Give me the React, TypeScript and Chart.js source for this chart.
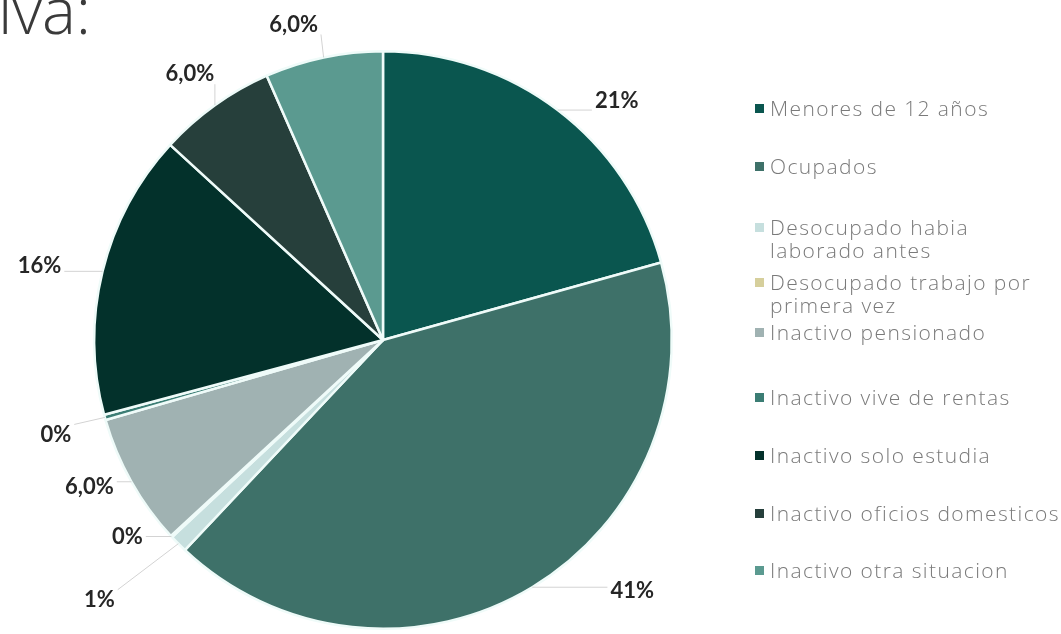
import React, { useEffect, useRef } from "react";
import { Chart, registerables } from "chart.js";

Chart.register(...registerables);

// ---- data ----
const categories: (string | string[])[] = [
  "Menores de 12 años",
  "Ocupados",
  ["Desocupado habia", "laborado antes"],
  ["Desocupado trabajo por", "primera vez"],
  "Inactivo pensionado",
  "Inactivo vive de rentas",
  "Inactivo solo estudia",
  "Inactivo oficios domesticos",
  "Inactivo otra situacion",
];
const sliceValues = [20.7, 41.4, 1.0, 0.1, 7.4, 0.3, 16.0, 6.6, 6.6];
const labelTexts = ["21%", "41%", "1%", "0%", "6,0%", "0%", "16%", "6,0%", "6,0%"];

// ---- styles / layout ----
const sliceColors = [
  "#0a564f",
  "#3e7169",
  "#c6dfde",
  "#d6cf9c",
  "#a0b2b2",
  "#3b7d74",
  "#03312b",
  "#263f3b",
  "#5b9a90",
];
// label offset from the slice's outer mid-point
const labelOffsets: [number, number][] = [
  [59, -9],
  [100, 4],
  [-79, 56],
  [-44, 0],
  [-42, 5],
  [-49, 17],
  [-63, -5],
  [-25, -31],
  [-30, -33],
];
const legendCenters = [108, 166, 227, 282, 332, 397, 455, 513, 570];
const LABEL_FONT = "bold 22px Lato";

const labelPlugin = {
  id: "pieLabels",
  afterDatasetsDraw(chart: any) {
    const ctx = chart.ctx as CanvasRenderingContext2D;
    const meta = chart.getDatasetMeta(0);
    ctx.save();
    ctx.font = LABEL_FONT;
    ctx.textAlign = "center";
    ctx.textBaseline = "middle";
    meta.data.forEach((arc: any, i: number) => {
      const p = arc.getProps(["x", "y", "startAngle", "endAngle", "outerRadius"], true);
      const mid = (p.startAngle + p.endAngle) / 2;
      const ax = p.x + Math.cos(mid) * p.outerRadius;
      const ay = p.y + Math.sin(mid) * p.outerRadius;
      const [dx, dy] = labelOffsets[i];
      const lx = ax + dx;
      const ly = ay + dy;
      const w = ctx.measureText(labelTexts[i]).width;
      const h = 16;
      const bx0 = lx - w / 2 - 3, bx1 = lx + w / 2 + 3;
      const by0 = ly - h / 2 - 2, by1 = ly + h / 2 + 2;
      const ex = Math.min(Math.max(ax, bx0), bx1);
      const ey = Math.min(Math.max(ay, by0), by1);
      ctx.strokeStyle = "#d3d3d3";
      ctx.lineWidth = 1;
      ctx.beginPath();
      ctx.moveTo(ax, ay);
      ctx.lineTo(ex, ey);
      ctx.stroke();
      ctx.fillStyle = "#262626";
      ctx.fillText(labelTexts[i], lx, ly);
    });
    ctx.restore();
  },
};

export default function App() {
  const canvasRef = useRef<HTMLCanvasElement | null>(null);

  useEffect(() => {
    if (!canvasRef.current) return;
    const chart = new Chart(canvasRef.current, {
      type: "pie",
      data: {
        labels: categories as any,
        datasets: [
          {
            data: sliceValues,
            backgroundColor: sliceColors,
            borderColor: "#effbf9",
            borderWidth: 2.5,
            hoverOffset: 0,
          },
        ],
      },
      options: {
        responsive: false,
        animation: false,
        layout: { padding: { left: 93, right: 388, top: 50, bottom: 4 } },
        plugins: {
          legend: { display: false },
          tooltip: { enabled: false },
          title: { display: false },
        },
      },
      plugins: [labelPlugin],
    });
    return () => chart.destroy();
  }, []);

  return (
    <div
      style={{
        position: "absolute",
        left: 0,
        top: 0,
        width: 1061,
        height: 634,
        overflow: "hidden",
        background: "#ffffff",
      }}
    >
      <div
        style={{
          position: "absolute",
          left: -2,
          top: -22,
          fontFamily: "'Open Sans', sans-serif",
          fontWeight: 300,
          fontSize: 64,
          lineHeight: "64px",
          color: "#3a3a3a",
          whiteSpace: "nowrap",
        }}
      >
        iva:
      </div>
      <canvas
        ref={canvasRef}
        width={1061}
        height={634}
        style={{ position: "absolute", left: 0, top: 0, width: 1061, height: 634 }}
      />
      {categories.map((c, i) => {
        const lines = Array.isArray(c) ? c : [c];
        return (
          <div
            key={i}
            style={{
              position: "absolute",
              left: 755,
              top: legendCenters[i] - 11.5,
              display: "flex",
              alignItems: "flex-start",
              fontFamily: "'Open Sans', sans-serif",
              fontWeight: 300,
              fontSize: 21,
              letterSpacing: 1.4,
              lineHeight: "23px",
              color: "#7a7a7a",
              whiteSpace: "nowrap",
            }}
          >
            <span
              style={{
                display: "inline-block",
                width: 9,
                height: 9,
                marginTop: 7,
                marginRight: 6,
                background: sliceColors[i],
              }}
            />
            <div>
              {lines.map((l, j) => (
                <div key={j}>{l}</div>
              ))}
            </div>
          </div>
        );
      })}
    </div>
  );
}
